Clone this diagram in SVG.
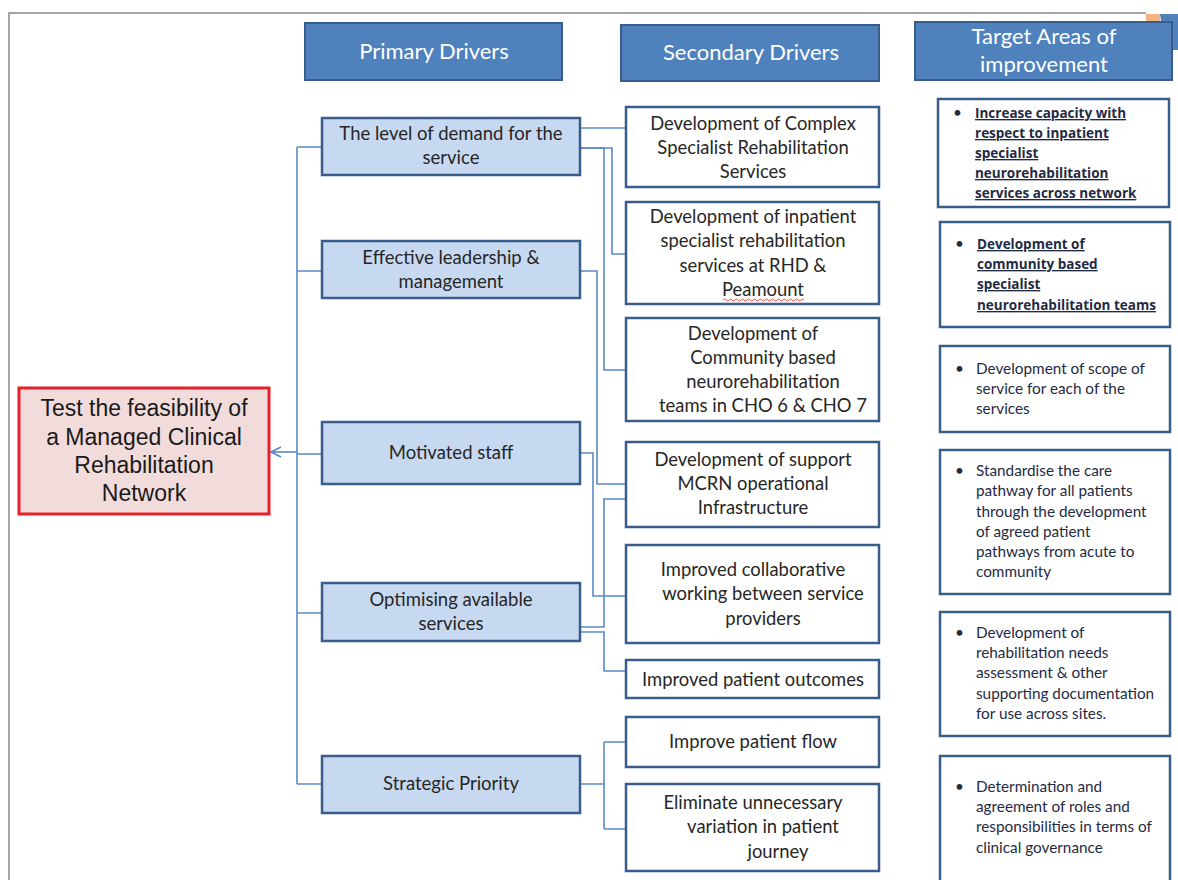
<svg xmlns="http://www.w3.org/2000/svg" width="1178" height="880" viewBox="0 0 1178 880">
<style>
.hdr{fill:#4f81bd;stroke:#385d8a;stroke-width:2}
.hdrt{font-family:Lato,"Open Sans",sans-serif;font-size:22px;fill:#ffffff;text-anchor:middle}
.pri{fill:#c6d9f1;stroke:#385d8a;stroke-width:2.5}
.prit{font-family:Lato,"Open Sans",sans-serif;font-size:18.5px;fill:#262626;text-anchor:middle}
.sec{fill:#ffffff;stroke:#385d8a;stroke-width:2.5}
.sect{font-family:Lato,"Open Sans",sans-serif;font-size:18.4px;fill:#262626;text-anchor:middle}
.tgt{fill:#ffffff;stroke:#385d8a;stroke-width:2.5}
.tgtt{font-family:Lato,"Open Sans",sans-serif;font-size:15.3px;fill:#1f2a44}
.tgtb{font-family:"Open Sans",Lato,sans-serif;font-size:13.5px;fill:#1f2a44;font-weight:bold;text-decoration:underline}
.conn{fill:none;stroke:#5b8ac6;stroke-width:1.6}
</style>
<defs>
<marker id="arr" viewBox="0 0 12 12" refX="11" refY="6" markerWidth="12" markerHeight="12" markerUnits="userSpaceOnUse" orient="auto">
<path d="M1,1 L11,6 L1,11" fill="none" stroke="#5b8ac6" stroke-width="1.6"/>
</marker>
</defs>
<rect width="1178" height="880" fill="#ffffff"/>
<g id="frame">
<path d="M9,880 L9,13 L1146,13" fill="none" stroke="#a6a6a6" stroke-width="2"/>
<rect x="1146" y="14" width="14" height="20" fill="#f4b183"/>
<path d="M1160,14 L1178,14 L1178,50 L1165,50 Z" fill="#4f81bd"/>
</g>
<g id="header-primary"><rect class="hdr" x="305" y="23" width="257" height="57"/><text class="hdrt" x="434" y="59">Primary Drivers</text></g>
<g id="header-secondary"><rect class="hdr" x="621" y="25" width="258" height="56"/><text class="hdrt" x="751" y="60">Secondary Drivers</text></g>
<g id="header-target"><rect class="hdr" x="915" y="22" width="257" height="58"/><text class="hdrt" x="1044" y="44">Target Areas of</text><text class="hdrt" x="1044" y="72">improvement</text></g>
<g id="connectors">
<path class="conn" d="M297,147 L297,784"/>
<path class="conn" d="M297,147 L322,147 M297,271 L322,271 M297,454 L322,454 M297,613 L322,613 M297,784 L322,784"/>
<path class="conn" d="M297,452 L271,452" marker-end="url(#arr)"/>
<path class="conn" d="M580,128 L626,128"/>
<path class="conn" d="M580,148 L612,148 L612,254 L626,254"/>
<path class="conn" d="M580,148 L604,148 L604,370 L626,370"/>
<path class="conn" d="M580,271 L597,271 L597,484 L626,484"/>
<path class="conn" d="M580,453 L593,453 L593,596 L626,596"/>
<path class="conn" d="M580,627 L604,627 L604,499 L626,499"/>
<path class="conn" d="M580,632 L604,632 L604,671 L626,671"/>
<path class="conn" d="M580,784 L604,784 M604,742 L604,829 M604,742 L626,742 M604,829 L626,829"/>
</g>
<g id="goal">
<rect x="19" y="388" width="250" height="126" fill="#f2dcdb" stroke="#e8202a" stroke-width="3"/>
<g font-family="'Liberation Sans',Arial,sans-serif" font-size="23" fill="#1a1a1a" text-anchor="middle">
<text x="144" y="416">Test the feasibility of</text>
<text x="144" y="445">a Managed Clinical</text>
<text x="144" y="473">Rehabilitation</text>
<text x="144" y="501">Network</text>
</g>
</g>
<g id="p1"><rect class="pri" x="322" y="118" width="258" height="57"/><text class="prit" x="451" y="140">The level of demand for the</text><text class="prit" x="451" y="164">service</text></g>
<g id="p2"><rect class="pri" x="322" y="241" width="258" height="57"/><text class="prit" x="451" y="264">Effective leadership &amp;</text><text class="prit" x="451" y="288">management</text></g>
<g id="p3"><rect class="pri" x="322" y="422" width="258" height="62"/><text class="prit" x="451" y="459">Motivated staff</text></g>
<g id="p4"><rect class="pri" x="322" y="583" width="258" height="58"/><text class="prit" x="451" y="606">Optimising available</text><text class="prit" x="451" y="630">services</text></g>
<g id="p5"><rect class="pri" x="322" y="756" width="258" height="57"/><text class="prit" x="451" y="790">Strategic Priority</text></g>
<g id="s1"><rect class="sec" x="626" y="107" width="253" height="80"/><text class="sect" x="753" y="130">Development of Complex</text><text class="sect" x="753" y="154">Specialist Rehabilitation</text><text class="sect" x="753" y="178">Services</text></g>
<g id="s2"><rect class="sec" x="626" y="202" width="253" height="102"/><text class="sect" x="753" y="223">Development of inpatient</text><text class="sect" x="753" y="247">specialist rehabilitation</text><text class="sect" x="753" y="272">services at RHD &amp;</text><text class="sect" x="763" y="296">Peamount</text><path d="M723,300 q1.5,-2 3,0 t3,0 t3,0 t3,0 t3,0 t3,0 t3,0 t3,0 t3,0 t3,0 t3,0 t3,0 t3,0 t3,0 t3,0 t3,0 t3,0 t3,0 t3,0 t3,0 t3,0 t3,0 t3,0 t3,0 t3,0 t3,0 t3,0" fill="none" stroke="#e02020" stroke-width="0.8"/></g>
<g id="s3"><rect class="sec" x="626" y="318" width="253" height="103"/><text class="sect" x="753" y="340">Development of</text><text class="sect" x="763" y="364">Community based</text><text class="sect" x="763" y="388">neurorehabilitation</text><text class="sect" x="763" y="412">teams in CHO 6 &amp; CHO 7</text></g>
<g id="s4"><rect class="sec" x="626" y="442" width="253" height="85"/><text class="sect" x="753" y="466">Development of support</text><text class="sect" x="753" y="490">MCRN operational</text><text class="sect" x="753" y="514">Infrastructure</text></g>
<g id="s5"><rect class="sec" x="626" y="545" width="253" height="98"/><text class="sect" x="753" y="576">Improved collaborative</text><text class="sect" x="763" y="600">working between service</text><text class="sect" x="763" y="625">providers</text></g>
<g id="s6"><rect class="sec" x="626" y="660" width="253" height="38"/><text class="sect" x="753" y="686">Improved patient outcomes</text></g>
<g id="s7"><rect class="sec" x="626" y="717" width="253" height="50"/><text class="sect" x="753" y="748">Improve patient flow</text></g>
<g id="s8"><rect class="sec" x="626" y="784" width="253" height="87"/><text class="sect" x="753" y="809">Eliminate unnecessary</text><text class="sect" x="763" y="833">variation in patient</text><text class="sect" x="778" y="858">journey</text></g>
<g id="t1"><rect class="tgt" x="938" y="99" width="231" height="108"/><text class="tgtt" x="953" y="118">•</text><text class="tgtb" x="975" y="118">Increase capacity with</text><text class="tgtb" x="975" y="138">respect to inpatient</text><text class="tgtb" x="975" y="158">specialist</text><text class="tgtb" x="975" y="178">neurorehabilitation</text><text class="tgtb" x="975" y="198">services across network</text></g>
<g id="t2"><rect class="tgt" x="940" y="222" width="230" height="105"/><text class="tgtt" x="955" y="249">•</text><text class="tgtb" x="977" y="249">Development of</text><text class="tgtb" x="977" y="269">community based</text><text class="tgtb" x="977" y="289">specialist</text><text class="tgtb" x="977" y="310">neurorehabilitation  teams</text></g>
<g id="t3"><rect class="tgt" x="940" y="346" width="230" height="86"/><text class="tgtt" x="955" y="374">•</text><text class="tgtt" x="976" y="374">Development of scope of</text><text class="tgtt" x="976" y="394">service for each of the</text><text class="tgtt" x="976" y="414">services</text></g>
<g id="t4"><rect class="tgt" x="940" y="450" width="230" height="144"/><text class="tgtt" x="955" y="476">•</text><text class="tgtt" x="976" y="476">Standardise the care</text><text class="tgtt" x="976" y="496">pathway for all patients</text><text class="tgtt" x="976" y="517">through the development</text><text class="tgtt" x="976" y="537">of agreed patient</text><text class="tgtt" x="976" y="557">pathways from acute to</text><text class="tgtt" x="976" y="577">community</text></g>
<g id="t5"><rect class="tgt" x="940" y="612" width="230" height="124"/><text class="tgtt" x="955" y="638">•</text><text class="tgtt" x="976" y="638">Development of</text><text class="tgtt" x="976" y="658">rehabilitation needs</text><text class="tgtt" x="976" y="678">assessment &amp; other</text><text class="tgtt" x="976" y="699">supporting documentation</text><text class="tgtt" x="976" y="719">for use across sites.</text></g>
<g id="t6"><rect class="tgt" x="940" y="756" width="230" height="130"/><text class="tgtt" x="955" y="792">•</text><text class="tgtt" x="976" y="792">Determination and</text><text class="tgtt" x="976" y="812">agreement of roles and</text><text class="tgtt" x="976" y="832">responsibilities in terms of</text><text class="tgtt" x="976" y="853">clinical governance</text></g>
</svg>
